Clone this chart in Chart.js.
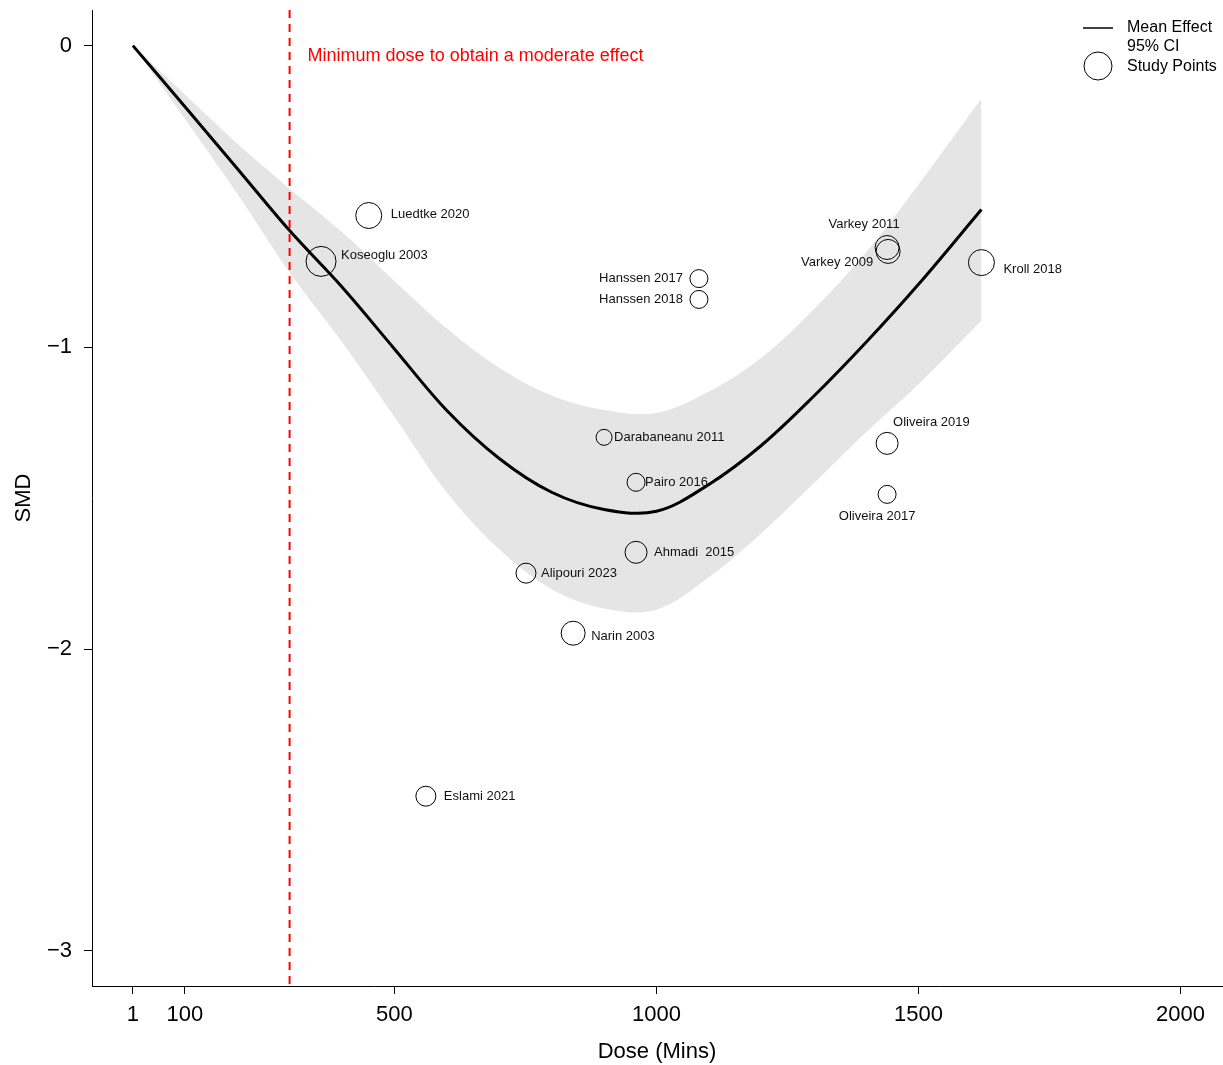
<!DOCTYPE html>
<html>
<head>
<meta charset="utf-8">
<script src="https://cdn.jsdelivr.net/npm/chart.js@4.4.1/dist/chart.umd.min.js"></script>
<style>
  html, body { margin: 0; padding: 0; background: #fff; }
  #wrap { width: 1223px; height: 1065px; }
</style>
</head>
<body>
<div id="wrap"><canvas id="doseChart"></canvas></div>
<script>
/* ================= DATA ================= */
const curveDose = [1, 100, 200, 300, 400, 500, 600, 700, 800, 900, 1000, 1100, 1200, 1300, 1400, 1500, 1620];
const meanEffect = [0, -0.202, -0.407, -0.613, -0.80, -1.005, -1.209, -1.368, -1.480, -1.537, -1.543, -1.454, -1.325, -1.162, -0.983, -0.791, -0.543];
const ciUpper = [0, -0.162, -0.324, -0.474, -0.618, -0.780, -0.937, -1.067, -1.159, -1.207, -1.217, -1.146, -1.034, -0.874, -0.685, -0.460, -0.175];
const ciLower = [0, -0.242, -0.490, -0.752, -0.982, -1.230, -1.481, -1.669, -1.801, -1.865, -1.869, -1.762, -1.616, -1.450, -1.281, -1.122, -0.911];

const studyNames = ["Luedtke 2020", "Koseoglu 2003", "Hanssen 2017", "Hanssen 2018", "Varkey 2011", "Varkey 2009",
  "Kroll 2018", "Darabaneanu 2011", "Pairo 2016", "Oliveira 2019", "Oliveira 2017", "Ahmadi  2015",
  "Alipouri 2023", "Narin 2003", "Eslami 2021"];
const studyDose = [451, 360, 1081, 1081, 1440, 1442, 1620, 900, 961, 1440, 1440, 961, 751, 841, 560];
const studySMD = [-0.563, -0.715, -0.772, -0.841, -0.669, -0.682, -0.719, -1.298, -1.447, -1.318, -1.487, -1.679, -1.748, -1.947, -2.487];

const minDose = 300;
const minDoseText = "Minimum dose to obtain a moderate effect";

const xTicks = [1, 100, 500, 1000, 1500, 2000];
const yTicks = [-3, -2, -1, 0];

/* ================= STYLE ================= */
const FONT = "'Liberation Sans', Arial, Helvetica, sans-serif";
// circle size per study (px)
const pointSizes = [13, 15, 9, 9, 12, 12, 13, 8, 9, 11, 9, 11, 10, 12, 10];
// label placement: [align, dx, dy] from point centre
const labelPlacement = [
  ["left", 22, -1], ["left", 20, -6], ["right", -16, 0], ["right", -16, 0],
  ["center", -23, -23], ["right", -15, 11], ["left", 22, 7], ["left", 10, 0],
  ["left", 9, 0], ["left", 6, -21], ["center", -10, 22], ["left", 18, 0],
  ["left", 15, 0], ["left", 18, 3], ["left", 18, 0]
];

const xy = (xs, ys) => xs.map((x, i) => ({ x, y: ys[i] }));

/* ================= PLUGINS ================= */
const extras = {
  id: "extras",
  afterDatasetsDraw(chart) {
    const { ctx, chartArea, scales } = chart;
    const px = scales.x.getPixelForValue(minDose);

    ctx.save();
    ctx.strokeStyle = "#ff0000";
    ctx.lineWidth = 2;
    ctx.setLineDash([8, 6]);
    ctx.beginPath();
    ctx.moveTo(px, chartArea.top);
    ctx.lineTo(px, chartArea.bottom);
    ctx.stroke();
    ctx.setLineDash([]);

    ctx.fillStyle = "#ff0000";
    ctx.font = "18px " + FONT;
    ctx.textAlign = "left";
    ctx.textBaseline = "middle";
    ctx.fillText(minDoseText, px + 18, 56);

    // study labels
    ctx.fillStyle = "#111";
    ctx.font = "13px " + FONT;
    studyNames.forEach((name, i) => {
      const [align, dx, dy] = labelPlacement[i];
      const x = scales.x.getPixelForValue(studyDose[i]);
      const y = scales.y.getPixelForValue(studySMD[i]);
      ctx.textAlign = align;
      ctx.fillText(name, x + dx, y + dy);
    });

    // legend
    ctx.strokeStyle = "#000";
    ctx.lineWidth = 1.5;
    ctx.beginPath();
    ctx.moveTo(1083, 28);
    ctx.lineTo(1113, 28);
    ctx.stroke();
    ctx.lineWidth = 1;
    ctx.beginPath();
    ctx.arc(1098, 66, 14, 0, Math.PI * 2);
    ctx.stroke();
    ctx.fillStyle = "#000";
    ctx.font = "16px " + FONT;
    ctx.textAlign = "left";
    ctx.fillText("Mean Effect", 1127, 28);
    ctx.fillText("95% CI", 1127, 47);
    ctx.fillText("Study Points", 1127, 67);
    ctx.restore();
  }
};

/* ================= CHART ================= */
new Chart(document.getElementById("doseChart"), {
  type: "line",
  data: {
    datasets: [
      {
        label: "lower",
        data: xy(curveDose, ciLower),
        order: 3,
        borderWidth: 0,
        pointRadius: 0,
        tension: 0.35,
        fill: false
      },
      {
        label: "95% CI",
        data: xy(curveDose, ciUpper),
        order: 2,
        borderWidth: 0,
        pointRadius: 0,
        tension: 0.35,
        backgroundColor: "rgb(229,229,229)",
        fill: "-1"
      },
      {
        label: "Mean Effect",
        data: xy(curveDose, meanEffect),
        order: 1,
        borderColor: "#000",
        borderWidth: 3,
        pointRadius: 0,
        tension: 0.35,
        fill: false
      },
      {
        label: "Study Points",
        data: xy(studyDose, studySMD),
        order: 0,
        showLine: false,
        pointRadius: pointSizes,
        pointHoverRadius: pointSizes,
        pointBorderColor: "#000",
        pointBorderWidth: 1,
        pointBackgroundColor: "rgba(0,0,0,0)"
      }
    ]
  },
  options: {
    responsive: true,
    maintainAspectRatio: false,
    animation: false,
    layout: { autoPadding: false, padding: { top: 10, right: 1, left: 0, bottom: 0 } },
    plugins: { legend: { display: false }, tooltip: { enabled: false } },
    scales: {
      x: {
        type: "linear",
        min: -77,
        max: 2079,
        afterFit: s => { s.height = 79; s.paddingLeft = 0; s.paddingRight = 0; },
        afterBuildTicks: s => { s.ticks = xTicks.map(v => ({ value: v })); },
        grid: { drawOnChartArea: false, drawTicks: true, tickLength: 8, color: "#000" },
        border: { color: "#000", width: 1 },
        ticks: { color: "#000", font: { family: FONT, size: 22 }, padding: 8, maxRotation: 0, callback: v => String(v) },
        title: { display: true, text: "Dose (Mins)", color: "#000", font: { family: FONT, size: 22 }, padding: { top: 6, bottom: 0 } }
      },
      y: {
        min: -3.116,
        max: 0.118,
        afterFit: s => { s.width = 92; s.paddingTop = 0; s.paddingBottom = 0; },
        afterBuildTicks: s => { s.ticks = yTicks.map(v => ({ value: v })); },
        grid: { drawOnChartArea: false, drawTicks: true, tickLength: 8, color: "#000" },
        border: { color: "#000", width: 1 },
        ticks: {
          color: "#000",
          font: { family: FONT, size: 22 },
          padding: 12,
          callback: v => String(v).replace("-", "\u2212")
        },
        title: { display: true, text: "SMD", color: "#000", font: { family: FONT, size: 22 }, padding: { top: 11 } }
      }
    }
  },
  plugins: [extras]
});
</script>
</body>
</html>
